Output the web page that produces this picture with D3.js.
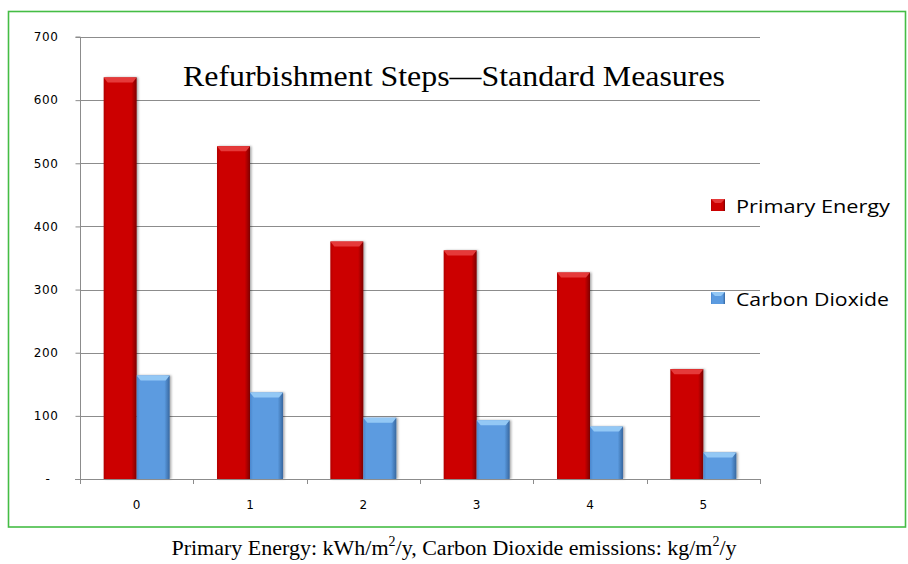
<!DOCTYPE html>
<html>
<head>
<meta charset="utf-8">
<script src="https://cdn.jsdelivr.net/npm/d3@7"></script>
<style>
  html, body { margin: 0; padding: 0; background: #ffffff; }
  svg { display: block; }
</style>
</head>
<body>
<svg id="chart" width="908" height="564"></svg>
<script>
// ---- data ----
const categories = ["0", "1", "2", "3", "4", "5"];
const seriesNames = ["Primary Energy", "Carbon Dioxide"];
const primaryEnergy = [636, 527, 376, 362, 327, 174];
const carbonDioxide = [164, 137, 97, 93, 83, 42];
const yTicks = [0, 100, 200, 300, 400, 500, 600, 700];
const yTickLabels = ["-", "100", "200", "300", "400", "500", "600", "700"];
const titleText = "Refurbishment Steps\u2014Standard Measures";

// ---- layout ----
const svg = d3.select("#chart");
const plot = { left: 80, right: 760, top: 37, bottom: 479 };

const x0 = d3.scaleBand().domain(categories).range([plot.left, plot.right])
  .paddingInner(0.4176).paddingOuter(0.2088);
const x1 = d3.scaleBand().domain(seriesNames).range([0, x0.bandwidth()]);
const y = d3.scaleLinear().domain([0, 700]).range([plot.bottom, plot.top]);
const xb = d3.scaleLinear().domain([0, categories.length]).range([plot.left, plot.right]);

const colors = {
  "Primary Energy": { edgeL: "#b20000", body: "#cc0000", edgeR: "#7e0000", top: "#e53a3a" },
  "Carbon Dioxide": { edgeL: "#4a86cc", body: "#5b9be0", edgeR: "#37679f", top: "#93c8f5" }
};

const defs = svg.append("defs");
seriesNames.forEach((s, i) => {
  const c = colors[s];
  const g = defs.append("linearGradient").attr("id", "grad" + i)
    .attr("x1", "0").attr("x2", "1").attr("y1", "0").attr("y2", "0");
  g.append("stop").attr("offset", "0").attr("stop-color", c.edgeL);
  g.append("stop").attr("offset", "0.09").attr("stop-color", c.body);
  g.append("stop").attr("offset", "0.84").attr("stop-color", c.body);
  g.append("stop").attr("offset", "1").attr("stop-color", c.edgeR);
});
const sh = defs.append("filter").attr("id", "shadow").attr("x", "-20%").attr("y", "-5%").attr("width", "150%").attr("height", "110%");
sh.append("feDropShadow").attr("dx", 1.5).attr("dy", 0).attr("stdDeviation", 1.2)
  .attr("flood-color", "#000").attr("flood-opacity", 0.35);

// border
svg.append("rect").attr("x", 8.5).attr("y", 11.5).attr("width", 897).attr("height", 515.5)
  .attr("fill", "none").attr("stroke", "#45bd45").attr("stroke-width", 1.6);

// gridlines
svg.append("g").selectAll("line").data(yTicks.filter(d => d > 0)).join("line")
  .attr("x1", plot.left).attr("x2", plot.right)
  .attr("y1", d => Math.round(y(d)) + 0.5).attr("y2", d => Math.round(y(d)) + 0.5)
  .attr("stroke", "#8c8c8c").attr("stroke-width", 1);

// title
svg.append("text").attr("x", 183).attr("y", 86)
  .attr("font-family", "'Liberation Serif', 'Times New Roman', serif")
  .attr("font-size", 30).attr("fill", "#000")
  .attr("textLength", 542).attr("lengthAdjust", "spacingAndGlyphs")
  .text(titleText);

// bars
const data = categories.map((c, i) => ({ cat: c, values: [primaryEnergy[i], carbonDioxide[i]] }));
const groups = svg.append("g").selectAll("g").data(data).join("g")
  .attr("transform", d => `translate(${x0(d.cat)},0)`);
groups.each(function(d) {
  const g = d3.select(this);
  seriesNames.forEach((s, si) => {
    const bx = x1(s), bw = x1.bandwidth(), by = y(d.values[si]), bh = plot.bottom - by;
    g.append("rect").attr("x", bx).attr("y", by).attr("width", bw).attr("height", bh)
      .attr("fill", `url(#grad${si})`).attr("filter", "url(#shadow)");
    const bev = 5;
    g.append("path")
      .attr("d", `M${bx},${by} L${bx + bw},${by} L${bx + bw - 4},${by + bev} L${bx + 4},${by + bev} Z`)
      .attr("fill", colors[s].top);
  });
});

// y axis
const yAxis = d3.axisLeft(y).tickValues(yTicks).tickFormat((d, i) => yTickLabels[i])
  .tickSize(5).tickPadding(17);
const yg = svg.append("g").attr("transform", `translate(${plot.left + 0.5},0)`).call(yAxis);
yg.select(".domain").attr("stroke", "#8c8c8c").attr("d", `M-5,${y(700)}H0V${y(0)}`);
yg.selectAll(".tick line").attr("stroke", "#8c8c8c");
yg.selectAll("text").attr("font-family", "'DejaVu Sans', Verdana, sans-serif")
  .attr("font-size", 12).attr("letter-spacing", 0.6).attr("fill", "#000");
yg.selectAll(".tick").filter(d => d === 0).select("text").attr("dx", -8);

// x axis line + boundary ticks
svg.append("line").attr("x1", plot.left - 5).attr("x2", plot.right)
  .attr("y1", Math.round(y(0)) + 0.5).attr("y2", Math.round(y(0)) + 0.5)
  .attr("stroke", "#8c8c8c");
svg.append("g").selectAll("line").data(d3.range(categories.length + 1)).join("line")
  .attr("x1", d => Math.round(xb(d)) + 0.5).attr("x2", d => Math.round(xb(d)) + 0.5)
  .attr("y1", y(0)).attr("y2", y(0) + 5).attr("stroke", "#8c8c8c");
svg.append("g").selectAll("text").data(categories).join("text")
  .attr("x", d => x0(d) + x0.bandwidth() / 2).attr("y", 509)
  .attr("text-anchor", "middle")
  .attr("font-family", "'DejaVu Sans', Verdana, sans-serif").attr("font-size", 12)
  .attr("fill", "#000").text(d => d);

// legend
const legendY = [205, 298];
const lg = svg.append("g").selectAll("g").data(seriesNames).join("g")
  .attr("transform", (d, i) => `translate(711,${legendY[i]})`);
lg.append("rect").attr("x", 0).attr("y", -6).attr("width", 14).attr("height", 12)
  .attr("fill", (d, i) => `url(#grad${i})`);
lg.append("path").attr("d", "M0,-6 L14,-6 L10,-2 L4,-2 Z").attr("fill", d => colors[d].top);
lg.append("text").attr("x", 25).attr("y", 8)
  .attr("font-family", "'Open Sans', Lato, sans-serif").attr("font-size", 19)
  .attr("fill", "#000")
  .attr("textLength", (d, i) => i === 0 ? 154 : 153).attr("lengthAdjust", "spacingAndGlyphs")
  .text(d => d);

// caption
const cap = svg.append("text").attr("x", 454).attr("y", 555).attr("text-anchor", "middle")
  .attr("font-family", "'Liberation Serif', 'Times New Roman', serif")
  .attr("font-size", 22).attr("fill", "#000");
cap.append("tspan").text("Primary Energy: kWh/m");
cap.append("tspan").attr("font-size", 14).attr("dy", -9).text("2");
cap.append("tspan").attr("dy", 9).text("/y, Carbon Dioxide emissions: kg/m");
cap.append("tspan").attr("font-size", 14).attr("dy", -9).text("2");
cap.append("tspan").attr("dy", 9).text("/y");
</script>
</body>
</html>
